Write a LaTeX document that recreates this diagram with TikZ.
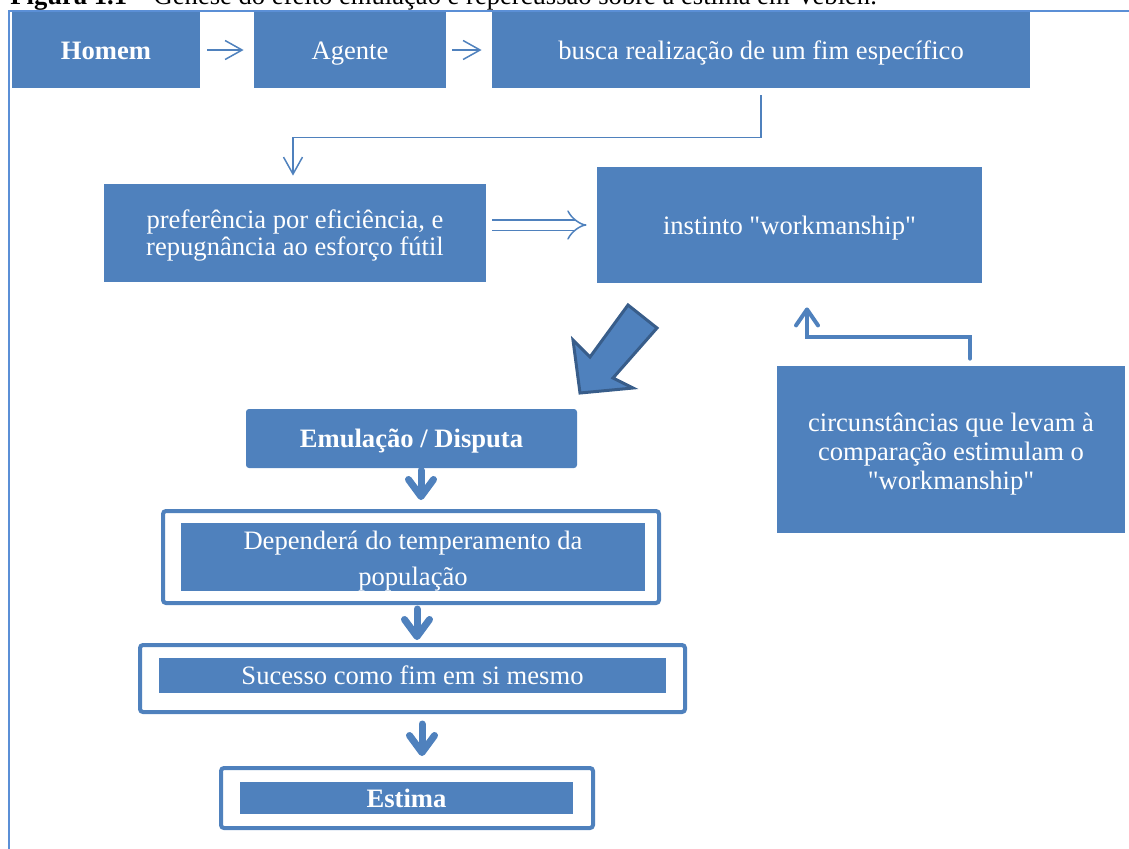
\documentclass[tikz,border=0pt]{standalone}
\usepackage{fontspec}
\setmainfont{Liberation Serif}
\usetikzlibrary{arrows.meta}
\definecolor{boxblue}{HTML}{4F81BD}
\definecolor{edgeblue}{HTML}{385D8A}
\definecolor{rimblue}{HTML}{5B8FD6}
\newcommand\firstline[1]{\rule{0pt}{#1}}
\tikzset{
  box/.style={fill=boxblue, text=white, inner sep=0pt, align=center,
    font=\fontsize{13.3}{16}\selectfont},
  bold/.style={font=\fontsize{13.3}{16}\selectfont\bfseries},
  oneline/.style={text height=12pt, text depth=3pt},
  rim/.style={draw=boxblue, line width=2pt, fill=white, rounded corners=1.5pt, inner sep=0pt},
  thinlink/.style={draw=boxblue, line width=0.75pt, -{Straight Barb[length=8.5pt,width=9.5pt]}},
  thicklink/.style={draw=boxblue, line width=2pt, line cap=round,
    -{Straight Barb[length=8pt,width=11pt,round]}},
  downlink/.style={draw=boxblue, line width=3.5pt, line cap=round,
    -{Straight Barb[length=8.5pt,width=12.5pt,round]}}
}
\begin{document}
\begin{tikzpicture}[x=0.5pt,y=-0.5pt]
% 1 unit = 1px of the 1129x848 page
\useasboundingbox (0,0) rectangle (1129,848);
\clip (0,0) rectangle (1129,848);
\draw[rimblue, line width=1pt] (9,11) rectangle (1150,870);
% caption, cut by the top edge
\node[anchor=base west, inner sep=0pt, font=\fontsize{13.3}{16}\selectfont] (caption) at (10,4)
  {\textbf{Figura 1.1} – Gênese do efeito emulação e repercussão sobre a estima em Veblen.};
% top row
\node[box, bold, oneline, minimum width=94pt, minimum height=38pt] (homem) at (106,50) {Homem};
\node[box, oneline, minimum width=96pt, minimum height=38pt] (agente) at (350,50) {Agente};
\node[box, oneline, minimum width=269pt, minimum height=38pt] (busca) at (761,50) {busca realização de um fim específico};
% second row
\node[box, minimum width=191pt, minimum height=49pt, font=\fontsize{13.3}{13.5}\selectfont] (pref) at (295,233)
  {\firstline{12pt}preferência por eficiência, e\\repugnância ao esforço fútil};
\node[box, oneline, minimum width=192.5pt, minimum height=58pt] (inst) at (789.5,225)
  {instinto \textquotedbl workmanship\textquotedbl};
\node[box, minimum width=174pt, minimum height=83.5pt, font=\fontsize{13.3}{14.5}\selectfont] (circ) at (951,449.5)
  {\firstline{13.5pt}circunstâncias que levam à\\comparação estimulam o\\\textquotedbl workmanship\textquotedbl};
% chain below
\node[box, bold, oneline, rounded corners=1.5pt, minimum width=165.5pt, minimum height=29.5pt] (emul) at (411.5,438.5)
  {Emulação / Disputa};
\node[rim, minimum width=248pt, minimum height=46pt] (depout) at (411,557) {};
\node[box, minimum width=232pt, minimum height=33pt, font=\fontsize{13.3}{18}\selectfont] (dep) at (413,557)
  {\firstline{13.5pt}Dependerá do temperamento da\\população};
\node[rim, minimum width=272.5pt, minimum height=33.5pt] (sucout) at (412.5,678.5) {};
\node[box, oneline, minimum width=253.5pt, minimum height=17.5pt] (suc) at (412.5,675.5) {Sucesso como fim em si mesmo};
\node[rim, minimum width=186pt, minimum height=30pt] (estout) at (407,798) {};
\node[box, bold, oneline, minimum width=166.5pt, minimum height=16pt] (est) at (406.5,798) {Estima};
% connectors
\draw[thinlink, shorten <=3.5pt, shorten >=5pt] (homem) -- (agente);
\draw[thinlink, shorten <=3pt, shorten >=5pt] (agente) -- (busca);
\draw[thinlink, shorten <=3.5pt, shorten >=4pt] (busca.south) -- ++(0,49) -| ([xshift=-1pt]pref.north);
\draw[boxblue, line width=0.75pt, double=white, double distance=4.5pt, -{Implies[scale=1.5]},
  shorten <=3pt, shorten >=5pt] (pref.east |- inst.west) -- (inst.west);
\draw[thicklink, shorten <=3.5pt, shorten >=12pt] ([xshift=9.5pt]circ.north) -- ++(0,-29) -| ([xshift=8.75pt]inst.south);
% block arrow
\filldraw[fill=boxblue, draw=edgeblue, line width=1.5pt] (628,305) -- (590,357) -- (573,340) -- (580,393)
  -- (633,388) -- (613,378) -- (657,328) -- cycle;
\foreach \a/\b/\dx/\sa/\sb in {emul/depout/4.75pt/1pt/4.5pt, depout/sucout/3pt/2pt/1.5pt, sucout/estout/4.75pt/5pt/5pt}{
  \draw[downlink, shorten <=\sa, shorten >=\sb] ([xshift=\dx]\a.south) -- ([xshift=\dx]\a.south |- \b.north);
}
\end{tikzpicture}
\end{document}
